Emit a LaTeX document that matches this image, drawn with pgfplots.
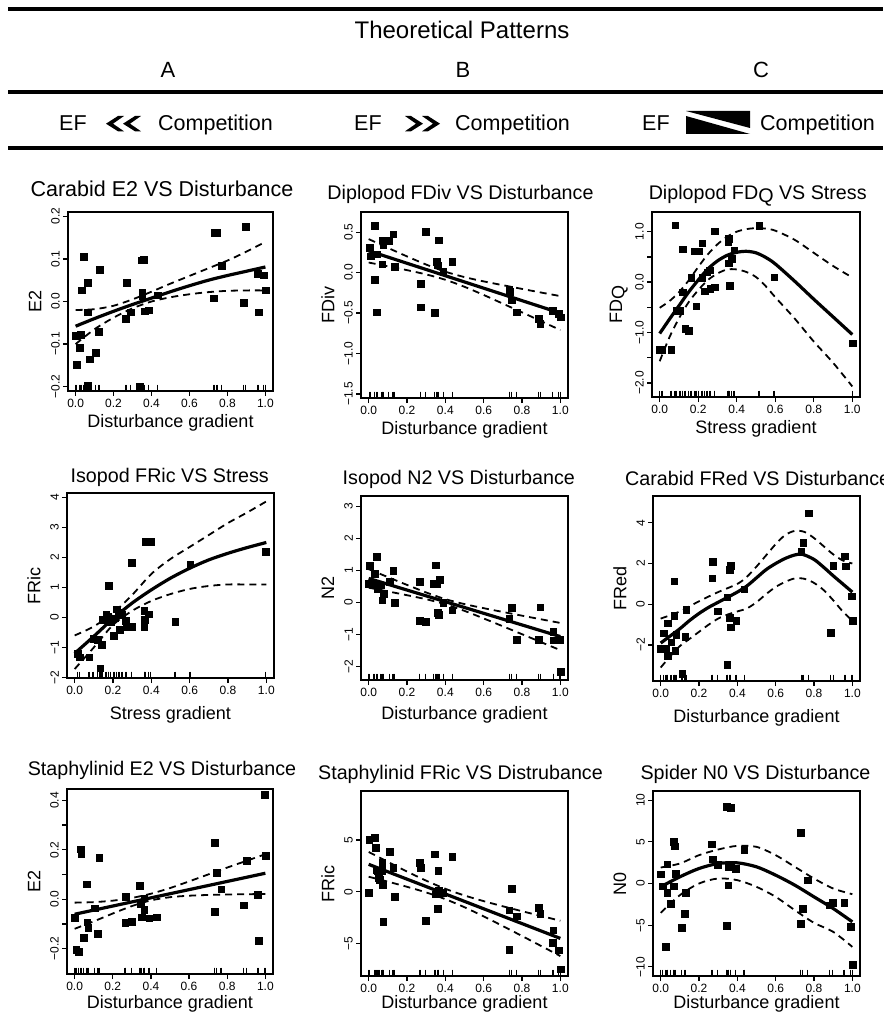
\documentclass[border=0pt]{standalone}
\usepackage{fontspec}
\setmainfont{Liberation Sans}
\usepackage{pgfplots}
\usepackage{pgfplotstable}
\pgfplotsset{compat=1.18}
\newcommand{\fs}[1]{\fontsize{#1}{#1}\selectfont}

\pgfplotsset{
 rp/.style={
  scale only axis, anchor=north west,
  xmin=-0.04, xmax=1.04,
  axis line style={line width=1.8pt, line cap=rect},
  tick align=outside, xtick pos=left, ytick pos=left,
  major tick length=5pt,
  every tick/.style={black, line width=1.3pt},
  xtick={0,0.2,0.4,0.6,0.8,1}, xticklabels={0.0,0.2,0.4,0.6,0.8,1.0},
  ticklabel style={font=\fs{12}, inner sep=3pt},
  yticklabel style={rotate=90, anchor=south},
  xticklabel style={anchor=north},
  every axis x label/.style={at={(axis description cs:0.5,0)}, anchor=base, font=\fs{18}},
  every axis y label/.style={at={(axis description cs:-0.16,0.5)}, rotate=90, anchor=center, font=\fs{18}},
  clip marker paths=false,
 },
 pts/.style={only marks, mark=square*, mark size=3.3pt, mark options={draw=black, fill=black, line width=0.1pt}},
 rug/.style={only marks, mark=|, mark size=3.2pt, mark options={black, line width=1.3pt, yshift=3.2pt}},
 fit/.style={no marks, smooth, line width=3.2pt, black},
 ci/.style={no marks, smooth, line width=1.8pt, black, dash pattern=on 7pt off 5pt},
}

\pgfplotstableread{
x y
0.042 0.105
0.127 0.075
0.269 0.045
0.346 0.097
0.359 0.098
0.032 0.027
0.063 0.045
0.063 -0.025
0.0 -0.08
0.026 -0.078
0.021 -0.108
0.004 -0.148
0.074 -0.135
0.105 -0.12
0.121 -0.07
0.063 -0.197
0.264 -0.04
0.29 -0.025
0.351 0.022
0.351 0.014
0.364 -0.022
0.385 -0.02
0.432 0.015
0.337 -0.2
0.733 0.162
0.745 0.162
0.728 0.008
0.768 0.085
0.896 0.176
0.886 -0.002
0.958 0.065
0.991 0.062
0.965 -0.025
1.0 0.027
}\pA

\pgfplotstableread{
x y
0.03 0.579
0.005 0.311
0.009 0.204
0.044 0.229
0.07 0.105
0.03 -0.085
0.04 -0.485
0.073 0.402
0.075 0.34
0.105 0.394
0.127 0.477
0.136 0.072
0.297 0.505
0.27 -0.134
0.27 -0.423
0.344 -0.497
0.354 0.134
0.358 0.093
0.366 0.402
0.389 0.01
0.436 0.134
0.733 -0.208
0.736 -0.237
0.745 -0.34
0.773 -0.485
0.887 -0.567
0.895 -0.629
0.96 -0.472
0.99 -0.505
1.0 -0.547
}\pB

\pgfplotstableread{
x y
0.079 1.13
0.0 -1.336
0.012 -1.336
0.058 -1.336
0.119 0.652
0.087 -0.56
0.105 -0.56
0.119 -0.196
0.131 -0.918
0.149 -0.958
0.163 0.089
0.18 0.619
0.201 0.619
0.219 0.778
0.189 -0.474
0.219 0.089
0.233 -0.176
0.245 0.201
0.259 0.235
0.262 -0.13
0.285 -0.097
0.285 1.01
0.358 0.864
0.355 0.798
0.358 0.38
0.372 0.467
0.385 0.632
0.362 -0.064
0.516 1.116
0.594 0.102
1.0 -1.21
}\pC

\pgfplotstableread{
x y
0.015 -1.21
0.024 -1.32
0.075 -1.32
0.096 -0.71
0.118 -0.74
0.139 -0.91
0.132 -1.69
0.144 -0.08
0.164 0.09
0.178 1.07
0.187 -0.13
0.204 -0.61
0.217 0.28
0.229 0.18
0.233 -0.41
0.247 0.09
0.264 -0.1
0.272 -0.3
0.298 -0.3
0.298 1.84
0.37 2.53
0.396 2.53
0.363 0.22
0.384 0.11
0.366 -0.08
0.363 -0.3
0.524 -0.13
0.601 1.78
0.995 2.2
0.175 0.03
0.209 -0.02
}\pD

\pgfplotstableread{
x y
0.0 0.59
0.005 1.15
0.03 0.91
0.04 1.43
0.026 0.59
0.047 0.44
0.061 0.54
0.07 0.07
0.079 0.28
0.127 0.99
0.11 0.65
0.134 -0.01
0.267 0.65
0.267 -0.57
0.297 -0.6
0.349 1.17
0.34 0.59
0.354 0.59
0.37 0.72
0.358 -0.32
0.366 -0.38
0.389 -0.01
0.436 -0.24
0.733 -0.5
0.745 -0.16
0.773 -1.16
0.895 -0.14
0.887 -1.16
0.963 -0.92
0.963 -1.18
0.995 -1.16
1.0 -2.17
}\pE

\pgfplotstableread{
x y
0.0 -2.18
0.014 -1.41
0.028 -2.18
0.035 -2.5
0.037 -0.92
0.054 -1.85
0.07 -0.54
0.07 1.15
0.075 -2.26
0.08 -1.47
0.127 -1.57
0.133 -0.26
0.112 -3.4
0.267 1.29
0.272 2.11
0.298 -0.34
0.346 -2.95
0.346 0.36
0.358 1.7
0.366 1.91
0.36 -0.65
0.366 -1.11
0.393 -0.79
0.436 0.75
0.733 2.62
0.743 3.03
0.77 4.48
0.887 -1.39
0.9 1.91
0.96 2.36
0.965 1.88
0.995 0.41
1.0 -0.79
}\pF

\pgfplotstableread{
x y
0.0 -0.074
0.007 -0.203
0.021 -0.212
0.03 0.203
0.033 0.184
0.047 -0.155
0.062 0.062
0.065 -0.093
0.07 -0.114
0.105 -0.036
0.127 0.169
0.121 -0.138
0.267 0.011
0.264 -0.095
0.297 -0.09
0.341 0.054
0.346 -0.019
0.351 -0.073
0.364 0.004
0.364 -0.043
0.39 -0.077
0.43 -0.073
0.733 0.23
0.733 -0.05
0.745 0.108
0.768 0.041
0.886 -0.023
0.9 0.157
0.958 0.018
0.965 -0.168
0.996 0.423
1.0 0.176
}\pG

\pgfplotstableread{
x y
0.003 5.06
0.03 5.23
0.035 4.26
0.0 -0.1
0.04 2.1
0.052 1.35
0.07 2.8
0.073 0.71
0.075 -2.9
0.044 2.0
0.056 1.19
0.07 2.03
0.11 3.87
0.127 2.32
0.134 -0.48
0.267 2.8
0.27 2.35
0.297 -2.8
0.344 3.65
0.349 -0.23
0.358 -1.61
0.361 2.03
0.366 0.1
0.389 -0.1
0.436 3.39
0.733 -5.58
0.733 -1.77
0.745 0.32
0.773 -2.35
0.887 -1.52
0.895 -2.1
0.963 -3.7
0.96 -4.9
0.99 -5.65
1.0 -7.48
}\pH

\pgfplotstableread{
x y
0.0 1.12
0.009 -0.32
0.033 2.32
0.033 -1.12
0.026 -7.6
0.05 -2.4
0.068 5.0
0.073 4.48
0.068 -0.32
0.078 1.2
0.108 -5.28
0.125 -3.6
0.131 -1.12
0.265 4.72
0.27 2.92
0.296 2.28
0.343 9.2
0.366 9.08
0.343 -5.08
0.352 -0.2
0.352 2.0
0.366 2.2
0.39 1.8
0.434 4.08
0.73 6.08
0.73 -4.8
0.74 -3.0
0.767 0.4
0.88 -2.6
0.897 -2.32
0.956 -2.32
0.99 -5.2
1.0 -9.72
}\pI

\begin{document}
\begin{tikzpicture}
\useasboundingbox (0,0) rectangle (883pt,-1016pt);

% ---------- header ----------
\draw[line width=4pt] (8pt,-9pt) -- (883pt,-9pt);
\draw[line width=4pt] (8pt,-92pt) -- (883pt,-92pt);
\draw[line width=4pt] (8pt,-148pt) -- (883pt,-148pt);
\node[anchor=base, font=\fs{24}, inner sep=0pt] at (462pt,-39pt) {Theoretical Patterns};
\node[anchor=base, font=\fs{22}, inner sep=0pt] at (168pt,-77.5pt) {A};
\node[anchor=base, font=\fs{22}, inner sep=0pt] at (463pt,-77.5pt) {B};
\node[anchor=base, font=\fs{22}, inner sep=0pt] at (761pt,-77.5pt) {C};
\node[anchor=base west, font=\fs{21.5}, inner sep=0pt] at (59pt,-131pt) {EF};
\node[anchor=base west, font=\fs{21.5}, inner sep=0pt] at (158pt,-131pt) {Competition};
\node[anchor=base west, font=\fs{21.5}, inner sep=0pt] at (354pt,-131pt) {EF};
\node[anchor=base west, font=\fs{21.5}, inner sep=0pt] at (455pt,-131pt) {Competition};
\node[anchor=base west, font=\fs{21.5}, inner sep=0pt] at (642pt,-131pt) {EF};
\node[anchor=base west, font=\fs{21.5}, inner sep=0pt] at (760pt,-131pt) {Competition};
% << chevrons
\fill (106pt,-123.7pt) -- (118pt,-116pt) -- (124pt,-116pt) -- (113pt,-123.7pt) -- (124pt,-131.3pt) -- (118pt,-131.3pt) -- cycle;
\fill (123pt,-123.7pt) -- (135pt,-116pt) -- (141pt,-116pt) -- (130pt,-123.7pt) -- (141pt,-131.3pt) -- (135pt,-131.3pt) -- cycle;
% >> chevrons
\fill (405pt,-116pt) -- (411pt,-116pt) -- (423pt,-123.7pt) -- (411pt,-131.3pt) -- (405pt,-131.3pt) -- (416pt,-123.7pt) -- cycle;
\fill (422pt,-116pt) -- (428pt,-116pt) -- (440pt,-123.7pt) -- (428pt,-131.3pt) -- (422pt,-131.3pt) -- (433pt,-123.7pt) -- cycle;
% wedge
\fill (686pt,-111pt) -- (750pt,-111pt) -- (750pt,-128pt) -- cycle;
\fill (686pt,-116pt) -- (750pt,-134pt) -- (686pt,-134pt) -- cycle;

% ---------- titles ----------
\node[anchor=base, font=\fs{21.5}, inner sep=0pt] at (162pt,-197pt) {Carabid E2 VS Disturbance};
\node[anchor=base, font=\fs{19.7}, inner sep=0pt] at (460.5pt,-200pt) {Diplopod FDiv VS Disturbance};
\node[anchor=base, font=\fs{19.7}, inner sep=0pt] at (757.7pt,-200pt) {Diplopod FD\raisebox{-0.12em}{Q} VS Stress};
\node[anchor=base, font=\fs{19.7}, inner sep=0pt] at (169.7pt,-482pt) {Isopod FRic VS Stress};
\node[anchor=base, font=\fs{19.7}, inner sep=0pt] at (458.8pt,-484pt) {Isopod N2 VS Disturbance};
\node[anchor=base west, font=\fs{19.7}, inner sep=0pt] at (625pt,-485pt) {Carabid FRed VS Disturbance};
\node[anchor=base, font=\fs{19.7}, inner sep=0pt] at (162pt,-775pt) {Staphylinid E2 VS Disturbance};
\node[anchor=base, font=\fs{19.7}, inner sep=0pt] at (460.5pt,-779pt) {Staphylinid FRic VS Distrubance};
\node[anchor=base, font=\fs{19.7}, inner sep=0pt] at (755.5pt,-779pt) {Spider N0 VS Disturbance};

% ---------- panel 1 ----------
\begin{axis}[rp, at={(68pt,-212pt)}, width=205pt, height=179pt,
  ymin=-0.21, ymax=0.21, ytick={-0.2,-0.1,0,0.1,0.2}, yticklabels={−0.2,−0.1,0.0,0.1,0.2},
  xlabel={Disturbance gradient}, xlabel style={yshift=-37pt}, ylabel={E2}]
\addplot[pts] table {\pA};
\addplot[rug] table[y expr=-0.21] {\pA};
\addplot[fit] coordinates {(0,-0.058) (0.1,-0.04) (0.2,-0.023) (0.3,-0.007) (0.4,0.008) (0.5,0.023) (0.6,0.037) (0.7,0.05) (0.8,0.061) (0.9,0.071) (1.0,0.081)};
\addplot[ci] coordinates {(0,-0.02) (0.1,-0.018) (0.2,-0.01) (0.3,0.005) (0.4,0.023) (0.5,0.042) (0.6,0.06) (0.7,0.078) (0.8,0.096) (0.9,0.117) (1.0,0.14)};
\addplot[ci] coordinates {(0,-0.1) (0.1,-0.065) (0.2,-0.038) (0.3,-0.016) (0.4,0.0) (0.5,0.01) (0.6,0.017) (0.7,0.022) (0.8,0.025) (0.9,0.026) (1.0,0.026)};
\end{axis}

% ---------- panel 2 ----------
\begin{axis}[rp, at={(361pt,-212pt)}, width=207pt, height=186pt,
  ymin=-1.55, ymax=0.75, ytick={-1.5,-1,-0.5,0,0.5}, yticklabels={−1.5,−1.0,−0.5,0.0,0.5},
  xlabel={Disturbance gradient}, xlabel style={yshift=-36.5pt}, ylabel={FDiv}]
\addplot[pts] table {\pB};
\addplot[rug] table[y expr=-1.55] {\pB};
\addplot[fit] coordinates {(0,0.27) (1,-0.50)};
\addplot[ci] coordinates {(0,0.415) (0.1,0.307) (0.2,0.201) (0.3,0.1) (0.4,0.012) (0.5,-0.055) (0.6,-0.108) (0.7,-0.155) (0.8,-0.201) (0.9,-0.246) (1.0,-0.29)};
\addplot[ci] coordinates {(0,0.125) (0.1,0.079) (0.2,0.031) (0.3,-0.022) (0.4,-0.088) (0.5,-0.175) (0.6,-0.276) (0.7,-0.383) (0.8,-0.491) (0.9,-0.60) (1.0,-0.71)};
\end{axis}

% ---------- panel 3 ----------
\begin{axis}[rp, at={(652pt,-212pt)}, width=208pt, height=185pt,
  ymin=-2.28, ymax=1.39, ytick={-2,-1.5,-1,-0.5,0,0.5,1}, yticklabels={−2.0,{},−1.0,{},0.0,{},1.0},
  xlabel={Stress gradient}, xlabel style={yshift=-36.5pt}, ylabel={FD\raisebox{-0.12em}{Q}}]
\addplot[pts] table {\pC};
\addplot[rug] table[y expr=-2.28] {\pC};
\addplot[fit] coordinates {(0,-1.02) (0.05,-0.74) (0.1,-0.47) (0.15,-0.2) (0.2,0.04) (0.25,0.26) (0.3,0.42) (0.35,0.53) (0.4,0.59) (0.45,0.61) (0.5,0.58) (0.55,0.49) (0.6,0.36) (0.7,0.02) (0.8,-0.34) (0.9,-0.69) (1.0,-1.04)};
\addplot[ci] coordinates {(0,-0.51) (0.05,-0.38) (0.1,-0.2) (0.15,0.03) (0.2,0.3) (0.25,0.55) (0.3,0.75) (0.35,0.9) (0.4,1.0) (0.45,1.05) (0.5,1.07) (0.55,1.06) (0.6,1.02) (0.7,0.84) (0.8,0.58) (0.9,0.32) (1.0,0.09)};
\addplot[ci] coordinates {(0,-1.57) (0.05,-1.1) (0.1,-0.72) (0.15,-0.4) (0.2,-0.16) (0.25,0.04) (0.3,0.17) (0.35,0.25) (0.4,0.25) (0.45,0.2) (0.5,0.1) (0.55,-0.08) (0.6,-0.3) (0.7,-0.72) (0.8,-1.18) (0.9,-1.6) (1.0,-2.07)};
\end{axis}

% ---------- panel 4 ----------
\begin{axis}[rp, at={(67pt,-493pt)}, width=207pt, height=185pt,
  ymin=-2.02, ymax=4.15, ytick={-2,-1,0,1,2,3,4}, yticklabels={−2,−1,0,1,2,3,4},
  xlabel={Stress gradient}, xlabel style={yshift=-41pt}, ylabel={FRic}]
\addplot[pts] table {\pD};
\addplot[rug] table[y expr=-2.02] {\pD};
\addplot[fit] coordinates {(0,-1.2) (0.1,-0.63) (0.2,-0.04) (0.3,0.48) (0.4,0.92) (0.5,1.31) (0.6,1.64) (0.7,1.92) (0.8,2.14) (0.9,2.33) (1.0,2.5)};
\addplot[ci] coordinates {(0,-0.6) (0.1,-0.3) (0.2,0.15) (0.3,0.75) (0.4,1.45) (0.5,1.95) (0.6,2.35) (0.7,2.75) (0.8,3.15) (0.9,3.5) (1.0,3.87)};
\addplot[ci] coordinates {(0,-1.72) (0.1,-1.0) (0.2,-0.25) (0.3,0.22) (0.4,0.55) (0.5,0.78) (0.6,0.95) (0.7,1.05) (0.8,1.1) (0.9,1.1) (1.0,1.1)};
\end{axis}

% ---------- panel 5 ----------
\begin{axis}[rp, at={(361pt,-496pt)}, width=207pt, height=184pt,
  ymin=-2.43, ymax=3.33, ytick={-2,-1,0,1,2,3}, yticklabels={−2,−1,0,1,2,3},
  xlabel={Disturbance gradient}, xlabel style={yshift=-39.5pt}, ylabel={N2}]
\addplot[pts] table {\pE};
\addplot[rug] table[y expr=-2.43] {\pE};
\addplot[fit] coordinates {(0,0.75) (1,-1.07)};
\addplot[ci] coordinates {(0,1.04) (0.1,0.792) (0.2,0.547) (0.3,0.31) (0.4,0.102) (0.5,-0.054) (0.6,-0.181) (0.7,-0.30) (0.8,-0.416) (0.9,-0.53) (1.0,-0.644)};
\addplot[ci] coordinates {(0,0.46) (0.1,0.344) (0.2,0.225) (0.3,0.098) (0.4,-0.058) (0.5,-0.266) (0.6,-0.503) (0.7,-0.748) (0.8,-0.996) (0.9,-1.246) (1.0,-1.496)};
\end{axis}

% ---------- panel 6 ----------
\begin{axis}[rp, at={(653pt,-496pt)}, width=207pt, height=185pt,
  ymin=-3.76, ymax=5.31, ytick={-2,0,2,4}, yticklabels={−2,0,2,4},
  xlabel={Disturbance gradient}, xlabel style={yshift=-41.5pt}, ylabel={FRed}]
\addplot[pts] table {\pF};
\addplot[rug] table[y expr=-3.76] {\pF};
\addplot[fit] coordinates {(0,-1.9) (0.05,-1.55) (0.1,-1.2) (0.15,-0.8) (0.2,-0.45) (0.25,-0.15) (0.3,0.1) (0.35,0.35) (0.4,0.6) (0.45,0.9) (0.5,1.3) (0.55,1.7) (0.6,2.0) (0.65,2.25) (0.7,2.42) (0.74,2.45) (0.8,2.2) (0.85,1.82) (0.9,1.4) (0.95,1.0) (1.0,0.6)};
\addplot[ci] coordinates {(0,-0.7) (0.1,-0.35) (0.2,0.15) (0.3,0.6) (0.4,1.0) (0.45,1.35) (0.5,1.85) (0.55,2.4) (0.6,2.95) (0.65,3.4) (0.7,3.6) (0.75,3.55) (0.8,3.25) (0.85,2.85) (0.9,2.45) (0.95,2.15) (1.0,2.0)};
\addplot[ci] coordinates {(0,-3.1) (0.05,-2.55) (0.1,-2.05) (0.15,-1.7) (0.2,-1.35) (0.25,-1.0) (0.3,-0.7) (0.35,-0.5) (0.4,-0.35) (0.45,-0.2) (0.5,0.1) (0.55,0.5) (0.6,0.85) (0.65,1.1) (0.7,1.27) (0.75,1.25) (0.8,1.05) (0.85,0.7) (0.9,0.2) (0.95,-0.35) (1.0,-0.8)};
\end{axis}

% ---------- panel 7 ----------
\begin{axis}[rp, at={(67pt,-789pt)}, width=206pt, height=185pt,
  ymin=-0.303, ymax=0.446, ytick={-0.2,-0.1,0,0.1,0.2,0.3,0.4}, yticklabels={−0.2,{},0.0,{},0.2,{},0.4},
  xlabel={Disturbance gradient}, xlabel style={yshift=-34pt}, ylabel={E2}]
\addplot[pts] table {\pG};
\addplot[rug] table[y expr=-0.303] {\pG};
\addplot[fit] coordinates {(0,-0.061) (1,0.105)};
\addplot[ci] coordinates {(0,-0.014) (0.1,-0.012) (0.2,-0.006) (0.3,0.005) (0.4,0.022) (0.5,0.045) (0.6,0.072) (0.7,0.1) (0.8,0.128) (0.9,0.155) (1.0,0.182)};
\addplot[ci] coordinates {(0,-0.12) (0.1,-0.09) (0.2,-0.058) (0.3,-0.028) (0.4,-0.005) (0.5,0.008) (0.6,0.014) (0.7,0.017) (0.8,0.019) (0.9,0.02) (1.0,0.021)};
\end{axis}

% ---------- panel 8 ----------
\begin{axis}[rp, at={(361pt,-791pt)}, width=207pt, height=185pt,
  ymin=-8.16, ymax=9.75, ytick={-5,0,5}, yticklabels={−5,0,5},
  xlabel={Disturbance gradient}, xlabel style={yshift=-32pt}, ylabel={FRic}]
\addplot[pts] table {\pH};
\addplot[rug] table[y expr=-8.16] {\pH};
\addplot[fit] coordinates {(0,2.65) (1,-4.52)};
\addplot[ci] coordinates {(0,3.85) (0.1,2.892) (0.2,1.956) (0.3,1.069) (0.4,0.282) (0.5,-0.365) (0.6,-0.912) (0.7,-1.41) (0.8,-1.886) (0.9,-2.35) (1.0,-2.809)};
\addplot[ci] coordinates {(0,1.45) (0.1,0.974) (0.2,0.476) (0.3,-0.071) (0.4,-0.718) (0.5,-1.505) (0.6,-2.392) (0.7,-3.328) (0.8,-4.286) (0.9,-5.256) (1.0,-6.231)};
\end{axis}

% ---------- panel 9 ----------
\begin{axis}[rp, at={(653pt,-791pt)}, width=207pt, height=185pt,
  ymin=-11.1, ymax=11.1, ytick={-10,-5,0,5,10}, yticklabels={−10,−5,0,5,10},
  xlabel={Disturbance gradient}, xlabel style={yshift=-32pt}, ylabel={N0}]
\addplot[pts] table {\pI};
\addplot[rug] table[y expr=-11.1] {\pI};
\addplot[fit] coordinates {(0,-0.4) (0.1,0.8) (0.2,1.8) (0.3,2.4) (0.4,2.48) (0.5,2.0) (0.6,1.0) (0.7,-0.2) (0.8,-1.6) (0.9,-3.0) (1.0,-4.6)};
\addplot[ci] coordinates {(0,1.92) (0.1,2.4) (0.2,3.4) (0.3,4.08) (0.4,4.52) (0.5,4.4) (0.6,3.4) (0.7,2.0) (0.8,0.6) (0.9,-0.6) (1.0,-1.28)};
\addplot[ci] coordinates {(0,-3.52) (0.1,-1.4) (0.2,0.0) (0.3,0.6) (0.4,0.4) (0.5,-0.4) (0.6,-1.6) (0.7,-3.2) (0.8,-4.72) (0.9,-5.8) (1.0,-7.6)};
\end{axis}
\end{tikzpicture}
\end{document}
